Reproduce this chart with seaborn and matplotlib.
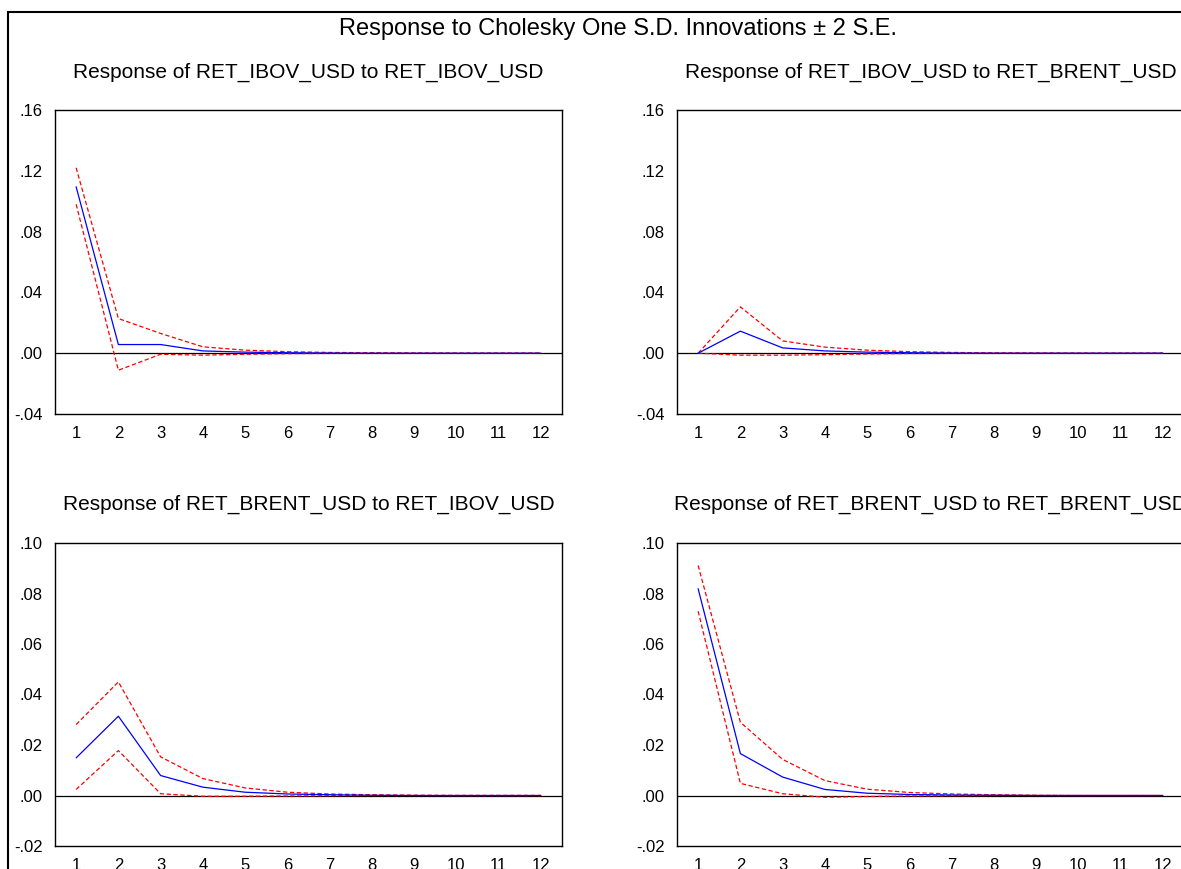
import numpy as np
import pandas as pd
import seaborn as sns
import matplotlib
matplotlib.use("Agg")
import matplotlib.pyplot as plt
from matplotlib.patches import Rectangle
from matplotlib.ticker import FixedLocator, FuncFormatter

# %% data
periods = list(range(1, 13))

ibov_ibov = [0.1095, 0.0057, 0.0057, 0.0015, 0.0007, 0.0003, 0.0001, 0.0, 0.0, 0.0, 0.0, 0.0]
ibov_ibov_hi = [0.122, 0.0228, 0.013, 0.0042, 0.002, 0.001, 0.0005, 0.0003, 0.0001, 0.0, 0.0, 0.0]
ibov_ibov_lo = [0.098, -0.0112, -0.0007, -0.0013, -0.0007, -0.0003, -0.0001, 0.0, 0.0, 0.0, 0.0, 0.0]

ibov_brent = [0.0, 0.0145, 0.0035, 0.0015, 0.0007, 0.0003, 0.0001, 0.0, 0.0, 0.0, 0.0, 0.0]
ibov_brent_hi = [0.0, 0.0305, 0.0081, 0.004, 0.002, 0.001, 0.0005, 0.0002, 0.0001, 0.0, 0.0, 0.0]
ibov_brent_lo = [0.0, -0.0013, -0.0013, -0.001, -0.0005, -0.0002, -0.0001, 0.0, 0.0, 0.0, 0.0, 0.0]

brent_ibov = [0.0149, 0.0314, 0.0079, 0.0033, 0.0013, 0.0006, 0.0003, 0.0001, 0.0, 0.0, 0.0, 0.0]
brent_ibov_hi = [0.0281, 0.045, 0.0153, 0.0067, 0.003, 0.0013, 0.0006, 0.0003, 0.0001, 0.0, 0.0, 0.0]
brent_ibov_lo = [0.0024, 0.0178, 0.0007, -0.0003, -0.0003, -0.0002, -0.0001, 0.0, 0.0, 0.0, 0.0, 0.0]

brent_brent = [0.0819, 0.0166, 0.0073, 0.0024, 0.0009, 0.0004, 0.0002, 0.0001, 0.0, 0.0, 0.0, 0.0]
brent_brent_hi = [0.0911, 0.029, 0.0143, 0.0059, 0.0025, 0.0012, 0.0006, 0.0003, 0.0001, 0.0, 0.0, 0.0]
brent_brent_lo = [0.073, 0.0048, 0.0007, -0.0007, -0.0004, -0.0002, -0.0001, 0.0, 0.0, 0.0, 0.0, 0.0]

titles = ["Response of RET_IBOV_USD to RET_IBOV_USD",
          "Response of RET_IBOV_USD to RET_BRENT_USD",
          "Response of RET_BRENT_USD to RET_IBOV_USD",
          "Response of RET_BRENT_USD to RET_BRENT_USD"]

# %% style
sns.set_style("white")
plt.rcParams["font.family"] = ["Liberation Sans", "DejaVu Sans"]
plt.rcParams["text.color"] = "black"

W, H = 1181, 869
fig = plt.figure(figsize=(W / 100, H / 100), dpi=100)

# outer frame (cropped on the right and bottom like the original)
fig.add_artist(Rectangle((8 / W, -0.1), 1.2, 1.1 - 12 / H, transform=fig.transFigure,
                         fill=False, lw=1.5, edgecolor="black"))

fig.text(618 / W, 1 - 29 / H, "Response to Cholesky One S.D. Innovations \u00b1 2 S.E.",
         ha="center", va="center", fontsize=17, color="black")

# panel boxes in pixels: left, top, right, bottom
boxes = [(55, 110, 562, 414), (677, 110, 1184, 414),
         (55, 543, 562, 846), (677, 543, 1184, 846)]
title_y = [72, 72, 504, 504]
ylims = [(-0.04, 0.16), (-0.04, 0.16), (-0.02, 0.10), (-0.02, 0.10)]
ysteps = [0.04, 0.04, 0.02, 0.02]
series = [(ibov_ibov, ibov_ibov_hi, ibov_ibov_lo),
          (ibov_brent, ibov_brent_hi, ibov_brent_lo),
          (brent_ibov, brent_ibov_hi, brent_ibov_lo),
          (brent_brent, brent_brent_hi, brent_brent_lo)]

fmt = FuncFormatter(lambda v, p: f"{v:.2f}".replace("0.", "."))

for i in range(4):
    l, t, r, b = boxes[i]
    ax = fig.add_axes([l / W, 1 - b / H, (r - l) / W, (b - t) / H])
    resp, hi, lo = series[i]

    ax.axhline(0, color="black", lw=0.9, zorder=1)
    sns.lineplot(x=periods, y=hi, ax=ax, color="red", lw=0.9, linestyle=(0, (3.5, 2)), zorder=2)
    sns.lineplot(x=periods, y=lo, ax=ax, color="red", lw=0.9, linestyle=(0, (3.5, 2)), zorder=2)
    sns.lineplot(x=periods, y=resp, ax=ax, color="blue", lw=0.9, zorder=3)

    ax.set_xlim(0.5, 12.5)
    lo_lim, hi_lim = ylims[i]
    ax.set_ylim(lo_lim, hi_lim)
    ax.set_yticks(np.round(np.arange(lo_lim, hi_lim + 1e-9, ysteps[i]), 2))
    ax.yaxis.set_major_formatter(fmt)
    ax.set_xticks(periods)
    ax.xaxis.set_minor_locator(FixedLocator(np.arange(0.5, 13, 1)))
    ax.tick_params(axis="x", which="major", length=0, pad=8.5, labelsize=12, colors="black")
    ax.tick_params(axis="x", which="minor", length=5.5, width=1, direction="out", color="#333333")
    ax.tick_params(axis="y", length=5.5, width=1, direction="out", pad=3.5, labelsize=12,
                   color="#333333", labelcolor="black")
    for s in ax.spines.values():
        s.set_color("black")
        s.set_linewidth(1.0)
    ax.set_xlabel("")
    ax.set_ylabel("")

    fig.text((l + r) / 2 / W, 1 - title_y[i] / H, titles[i], ha="center", va="center",
             fontsize=15, color="black")

fig.savefig("out.png", dpi=100)
